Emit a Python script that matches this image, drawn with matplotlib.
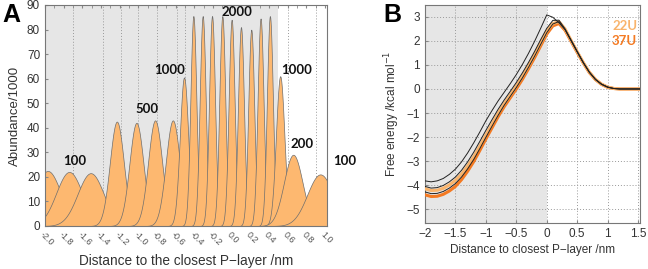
import matplotlib
matplotlib.use("Agg")
import matplotlib.pyplot as plt
import numpy as np

plt.rcParams['font.family'] = ['Liberation Sans', 'DejaVu Sans']
plt.rcParams['axes.unicode_minus'] = True

# ---- panel A: umbrella-sampling window histograms ----
win_center = [-1.97, -1.74, -1.51, -1.23, -1.02, -0.82, -0.63, -0.51,
              -0.41, -0.31, -0.21, -0.10, 0.00, 0.10, 0.21, 0.31, 0.41,
              0.52, 0.66, 0.95]
win_height = [22.4, 22.0, 21.5, 42.5, 42.0, 43.0, 43.0, 60.5,
              85.5, 85.5, 85.5, 85.5, 84.0, 81.0, 80.0, 84.5, 85.5,
              61.0, 29.0, 21.0]
win_width = [0.14, 0.14, 0.14, 0.075, 0.075, 0.075, 0.075, 0.045,
             0.032, 0.032, 0.032, 0.032, 0.032, 0.032, 0.032, 0.032, 0.032,
             0.045, 0.10, 0.14]
a_labels = ['100', '500', '1000', '2000', '1000', '200', '100']
a_label_x = [-1.68, -0.91, -0.66, 0.06, 0.70, 0.75, 1.21]
a_label_y = [26.5, 47.6, 63.5, 87.0, 63.5, 33.4, 26.5]
a_xticks = [-2.0, -1.8, -1.6, -1.4, -1.2, -1.0, -0.8, -0.6, -0.4, -0.2,
            0.0, 0.2, 0.4, 0.6, 0.8, 1.0]
a_grid = [-1.7, -1.38, -1.19, -1.0, -0.8, -0.59, -0.5, 0.6, 0.9]

# ---- panel B: free energy profiles ----
d = [-2.0, -1.9, -1.8, -1.7, -1.6, -1.5, -1.4, -1.3, -1.2, -1.1, -1.0,
     -0.9, -0.8, -0.7, -0.6, -0.5, -0.4, -0.3, -0.2, -0.1, 0.0, 0.1, 0.2,
     0.3, 0.4, 0.5, 0.6, 0.7, 0.8, 0.9, 1.0, 1.1, 1.2, 1.3, 1.4, 1.5, 1.54]
fe_black1 = [-3.82, -3.86, -3.82, -3.72, -3.55, -3.33, -3.03, -2.66, -2.24,
             -1.79, -1.32, -0.90, -0.50, -0.14, 0.22, 0.60, 1.02, 1.48, 1.98,
             2.52, 3.08, 2.98, 2.75, 2.47, 2.02, 1.55, 1.10, 0.70, 0.40, 0.20,
             0.08, 0.02, 0.0, 0.0, 0.0, 0.0, 0.0]
fe_black2 = [-4.05, -4.12, -4.10, -4.01, -3.86, -3.66, -3.38, -3.03, -2.63,
             -2.18, -1.72, -1.28, -0.85, -0.46, -0.10, 0.27, 0.67, 1.10, 1.56,
             2.05, 2.52, 2.85, 2.86, 2.50, 2.03, 1.56, 1.10, 0.70, 0.40, 0.20,
             0.08, 0.02, 0.0, 0.0, 0.0, 0.0, 0.0]
fe_black3 = [-4.28, -4.35, -4.34, -4.26, -4.12, -3.93, -3.66, -3.32, -2.93,
             -2.48, -2.01, -1.55, -1.10, -0.68, -0.31, 0.06, 0.46, 0.90, 1.36,
             1.85, 2.34, 2.70, 2.80, 2.47, 2.00, 1.54, 1.09, 0.69, 0.39, 0.19,
             0.07, 0.02, 0.0, 0.0, 0.0, 0.0, 0.0]
fe_22U = [-4.15, -4.22, -4.21, -4.13, -3.99, -3.80, -3.54, -3.20, -2.82,
          -2.38, -1.92, -1.47, -1.02, -0.62, -0.26, 0.12, 0.52, 0.95, 1.42,
          1.90, 2.40, 2.72, 2.80, 2.50, 2.02, 1.55, 1.10, 0.70, 0.40, 0.20,
          0.08, 0.02, 0.0, 0.0, 0.0, 0.0, 0.0]
fe_37U = [-4.40, -4.47, -4.46, -4.38, -4.24, -4.05, -3.77, -3.42, -3.02,
          -2.56, -2.08, -1.62, -1.16, -0.74, -0.37, 0.00, 0.40, 0.84, 1.30,
          1.79, 2.28, 2.62, 2.72, 2.44, 1.98, 1.52, 1.08, 0.68, 0.39, 0.19,
          0.07, 0.02, 0.0, 0.0, 0.0, 0.0, 0.0]

fill_col = '#fdb870'
c22 = '#f9b46c'
c37 = '#f47a22'
txt = '#333333'

fig = plt.figure(figsize=(6.48, 2.69), dpi=100)
axA = fig.add_axes([0.0694, 0.160, 0.435, 0.8216])
axB = fig.add_axes([0.6559, 0.172, 0.3325, 0.8094])

# panel A
axA.axvspan(-2.0, 0.5, color='#e6e6e6', zorder=0, lw=0)
for g in a_grid:
    axA.axvline(g, color='#999999', ls=(0, (1, 2)), lw=0.7, zorder=0.5)
xs = np.linspace(-2.1, 1.1, 1200)
for i, (c, h, w) in enumerate(zip(win_center, win_height, win_width)):
    ys = h * np.exp(-(xs - c) ** 2 / (2 * w ** 2))
    axA.fill_between(xs, 0, ys, facecolor=fill_col, edgecolor='#6e6e6e',
                     lw=0.5, zorder=1 + i * 0.01)
for s, x, y in zip(a_labels, a_label_x, a_label_y):
    axA.text(x, y, s, ha='center', va='center', fontsize=9.5,
             fontweight='bold', family='Lato', color='#111111',
             zorder=5, clip_on=False)
axA.set_xlim(-2.0, 1.02)
axA.set_ylim(0, 90)
axA.set_yticks(range(0, 91, 10))
axA.set_xticks(a_xticks)
axA.set_xticklabels(['%.1f' % v for v in a_xticks], rotation=-45,
                    ha='left', va='top', rotation_mode='anchor')
axA.set_xticks(np.arange(-2.0, 1.01, 0.1), minor=True)
axA.tick_params(axis='x', which='both', direction='in', top=True,
                bottom=False, length=2.5, labelsize=6.5, labelcolor='#555555',
                color='#888888', pad=3)
axA.tick_params(axis='y', direction='in', length=2, labelsize=8.5,
                labelcolor=txt, color='#888888')
axA.set_ylabel('Abundance/1000', fontsize=9.5, color=txt, labelpad=4)
axA.set_xlabel('Distance to the closest P\u2212layer /nm', fontsize=9.8,
               color=txt, labelpad=5)
for sp in axA.spines.values():
    sp.set_color('#777777')
    sp.set_linewidth(0.8)

# panel B
axB.axvspan(-2.0, 0.0, color='#e6e6e6', zorder=0, lw=0)
axB.grid(True, color='#999999', ls=(0, (1, 2)), lw=0.7)
axB.set_axisbelow(True)
axB.plot(d, fe_37U, color=c37, lw=2.2, zorder=3)
axB.plot(d, fe_22U, color=c22, lw=2.2, zorder=3)
axB.plot(d, fe_black3, color='#222222', lw=0.7, zorder=4)
axB.plot(d, fe_black2, color='#222222', lw=0.7, zorder=4)
axB.plot(d, fe_black1, color='#222222', lw=0.7, zorder=4)
axB.text(0.985, 0.905, '22U', transform=axB.transAxes, ha='right',
         va='center', color=c22, fontsize=9.5, fontweight='bold', family='Lato')
axB.text(0.985, 0.835, '37U', transform=axB.transAxes, ha='right',
         va='center', color=c37, fontsize=9.5, fontweight='bold', family='Lato')
axB.set_xlim(-2.0, 1.54)
axB.set_ylim(-5.56, 3.49)
axB.set_xticks([-2, -1.5, -1, -0.5, 0, 0.5, 1, 1.5])
axB.set_xticklabels(['\u22122', '\u22121.5', '\u22121', '\u22120.5', '0',
                     '0.5', '1', '1.5'])
axB.set_yticks(range(-5, 4))
axB.tick_params(direction='in', length=2, labelsize=8.5, labelcolor=txt,
                color='#888888')
axB.set_xlabel('Distance to closest P\u2212layer /nm', fontsize=8.5,
               color=txt, labelpad=3)
axB.set_ylabel('Free energy /kcal mol$^{-1}$', fontsize=8.5, color=txt,
               labelpad=3)
for sp in axB.spines.values():
    sp.set_color('#777777')
    sp.set_linewidth(0.8)

fig.text(0.004, 0.945, 'A', fontsize=18, fontweight='bold', va='center',
         family='Liberation Sans')
fig.text(0.592, 0.945, 'B', fontsize=18, fontweight='bold', va='center',
         family='Liberation Sans')

fig.savefig('out.png', dpi=100)
